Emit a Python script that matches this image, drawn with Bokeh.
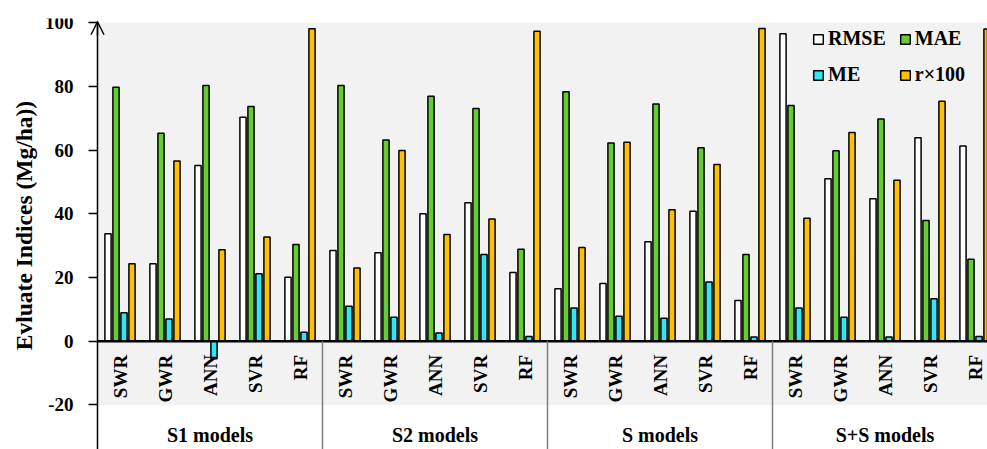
import numpy as np
from bokeh.plotting import figure
from bokeh.models import (Range1d, FixedTicker, BoxAnnotation, Legend, LegendItem,
                          Arrow, OpenHead, ColumnDataSource)
from bokeh.core.properties import value
from bokeh.embed import file_html
from bokeh.resources import INLINE

# ---------------- data ----------------
groups = ["S1 models", "S2 models", "S models", "S+S models"]
models = ["SWR", "GWR", "ANN", "SVR", "RF"]
series = ["RMSE", "MAE", "ME", "r×100"]
y_title = "Evluate Indices (Mg/ha))"

rmse = [33.7, 24.3, 55.2, 70.3, 20.1,
        28.5, 27.8, 40.0, 43.5, 21.6,
        16.5, 18.1, 31.2, 40.8, 12.8,
        96.5, 51.0, 44.7, 63.9, 61.3]
mae = [79.7, 65.3, 80.3, 73.7, 30.4,
       80.3, 63.2, 76.9, 73.1, 28.9,
       78.3, 62.2, 74.5, 60.7, 27.2,
       74.0, 59.8, 69.8, 37.9, 25.7]
me = [8.9, 7.0, -5.5, 21.2, 2.8,
      11.0, 7.5, 2.6, 27.2, 1.5,
      10.4, 7.8, 7.2, 18.6, 1.3,
      10.4, 7.5, 1.3, 13.3, 1.5]
r100 = [24.3, 56.6, 28.7, 32.7, 98.1,
        23.0, 59.9, 33.5, 38.4, 97.3,
        29.4, 62.5, 41.3, 55.5, 98.2,
        38.6, 65.5, 50.5, 75.3, 98.0]
y_ticks = [-20, 0, 20, 40, 60, 80, 100]

colors = ["#FFFFFF", "#66CC33", "#33E6F5", "#FFC000"]
FONT = "Liberation Serif"

# ---------------- layout ----------------
n_groups = len(groups) * len(models)
W, H = 987, 449
border_left, border_top = 0, 18
px_per_group = 45.0
axis_px = 97
x_start = -(axis_px - border_left) / px_per_group
x_end = x_start + (W - border_left) / px_per_group
px_per_y = 3.185
y_top = 100 + 4.2 / px_per_y
y_bottom = y_top - (H - border_top) / px_per_y
pitch = 8.0 / px_per_group
bar_w = 6.2 / px_per_group

p = figure(width=W, height=H, x_range=Range1d(x_start, x_end), y_range=Range1d(y_bottom, y_top),
           output_backend="svg", toolbar_location=None,
           min_border_left=border_left, min_border_right=0, min_border_top=border_top,
           min_border_bottom=0)
p.background_fill_color = "white"
p.border_fill_color = "white"
p.outline_line_color = None
p.xgrid.visible = False
p.ygrid.visible = False
p.xaxis.visible = False

p.add_layout(BoxAnnotation(left=0, bottom=-20, top=100, fill_color="#F2F2F2", fill_alpha=1,
                           line_color=None, level="underlay"))

centers = np.arange(n_groups) + 0.5
data_series = [rmse, mae, me, r100]
renderers = []
for k, (vals, col) in enumerate(zip(data_series, colors)):
    src = ColumnDataSource(dict(x=centers + (k - 1.5) * pitch, top=vals))
    r = p.vbar(x="x", top="top", bottom=0, width=bar_w, source=src,
               fill_color=col, line_color="black", line_width=1.5)
    renderers.append(r)

# zero baseline
p.segment(x0=[0], y0=[0], x1=[n_groups], y1=[0], line_color="black", line_width=2.5)

# separators between model groups
seps = [len(models) * i for i in range(1, len(groups))]
p.segment(x0=seps, y0=[0] * len(seps), x1=seps, y1=[y_bottom - 5] * len(seps),
          line_color="#7F7F7F", line_width=1.5)

# model labels (rotated)
sub_labels = models * len(groups)
p.text(x=centers, y=[-4.3] * n_groups, text=sub_labels, angle=np.pi / 2,
       text_align="right", text_baseline="middle",
       text_font=value(FONT), text_font_style="bold", text_font_size="19px",
       text_color="black")

# group labels
g_centers = [len(models) * i + len(models) / 2 for i in range(len(groups))]
p.text(x=g_centers, y=[-29.6] * len(groups), text=groups,
       text_align="center", text_baseline="middle",
       text_font=value(FONT), text_font_style="bold", text_font_size="20px",
       text_color="black")

# y axis, drawn at x = 0
ax = p.yaxis[0]
ax.fixed_location = 0
ax.bounds = (y_bottom - 5, 100.3)
ax.ticker = FixedTicker(ticks=y_ticks)
ax.major_label_overrides = {t: str(t) for t in y_ticks}
ax.major_tick_out = 9
ax.major_tick_in = 0
ax.minor_tick_line_color = None
ax.axis_line_width = 1.5
ax.major_tick_line_width = 1.5
ax.major_label_standoff = 15
ax.major_label_text_font = FONT
ax.major_label_text_font_style = "bold"
ax.major_label_text_font_size = "19px"
ax.major_label_text_color = "black"

# y-axis title, placed to the left of the tick labels
p.text(x=[x_start + 23 / px_per_group], y=[(340.7 - 225) / px_per_y], text=[y_title],
       angle=np.pi / 2, text_align="center", text_baseline="middle",
       text_font=value(FONT), text_font_style="bold", text_font_size="23.5px",
       text_color="black")

p.add_layout(Arrow(end=OpenHead(size=13, line_width=1.5), x_start=0, y_start=96,
                   x_end=0, y_end=100.3, line_width=1.5, line_color="black"))

# legend: Bokeh fills columns first, so order items column by column
order = [0, 2, 1, 3]
legend = Legend(items=[LegendItem(label=series[i], renderers=[renderers[i]]) for i in order],
                ncols=2, location=(812, 363), padding=0, spacing=13,
                glyph_width=12, glyph_height=12, label_standoff=4, label_height=22,
                label_text_font=FONT, label_text_font_style="bold",
                label_text_font_size="20px", label_text_color="black",
                border_line_color=None, background_fill_alpha=0)
p.add_layout(legend)

open("out.html", "w").write(file_html(p, INLINE))
